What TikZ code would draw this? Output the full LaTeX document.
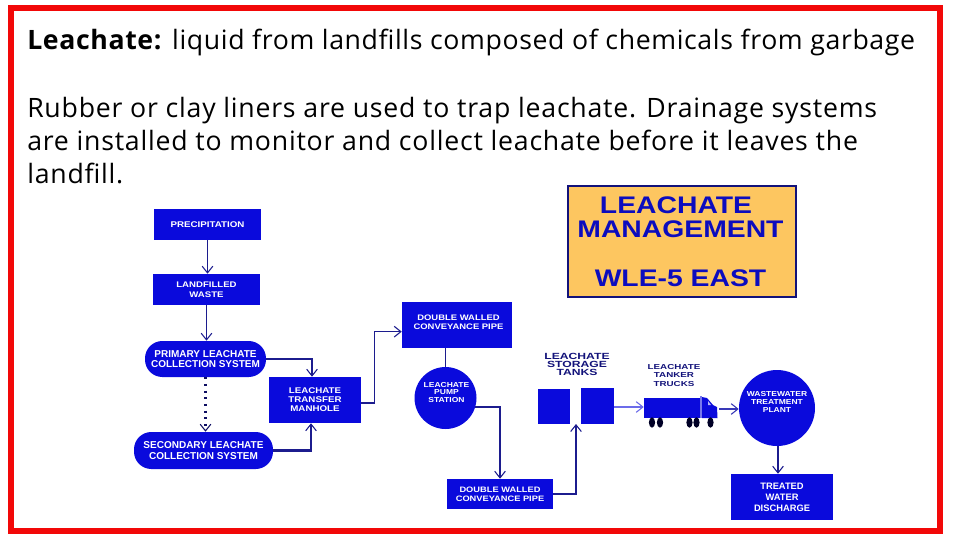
\documentclass[tikz,border=0pt]{standalone}
\usepackage{fontspec}
\setmainfont{Open Sans}[LetterSpace=2.9]
\newfontfamily\firstline{Open Sans}[LetterSpace=2.35]
\setsansfont{Liberation Sans}
\newfontfamily\widesf{Liberation Sans}[FakeStretch=1.18]
\newfontfamily\widersf{Liberation Sans}[FakeStretch=1.36]
\usetikzlibrary{arrows.meta,calc}
\definecolor{bl}{HTML}{0A0ADC}
\definecolor{navy}{HTML}{12127A}
\definecolor{ln}{HTML}{1C1C8E}
\definecolor{bord}{HTML}{F20808}
\definecolor{org}{HTML}{FDC660}
\tikzset{
  x=0.75pt,y=-0.75pt,
  bluebox/.style={fill=bl,draw=none,inner sep=0pt,text=white,align=center,font=\sffamily\bfseries\fontsize{#1}{#1}\selectfont},
  widebox/.style={fill=bl,draw=none,inner sep=0pt,text=white,align=center,font=\widesf\bfseries\fontsize{#1}{#1}\selectfont},
  whitetext/.style={inner sep=0pt,text=white,align=center,font=\widesf\bfseries\fontsize{#1}{#1}\selectfont},
  conn/.style={draw=ln,line width=1.1pt,-{Straight Barb[length=5pt,width=8pt,line width=0.8pt]}},
  plainconn/.style={draw=ln,line width=1.1pt},
  bodytext/.style={anchor=base west,inner sep=0pt,text=black,align=left,font=\fontsize{20pt}{24.75pt}\selectfont},
  darklabel/.style 2 args={inner sep=0pt,text=navy,align=center,font=\widersf\bfseries\fontsize{#1}{#2}\selectfont},
  titletext/.style={inner sep=0pt,text=bl!70!navy,align=center,font=\widesf\bfseries\fontsize{18}{18}\selectfont},
}
\begin{document}
\begin{tikzpicture}
\useasboundingbox (0,0) rectangle (960,540);
\fill[white] (0,0) rectangle (960,540);
\node[draw=bord,line width=4.5pt,inner sep=0pt,minimum width=929*0.75pt,minimum height=522.5*0.75pt] (frame) at (475.5,269.25) {};

\node[bodytext] (t1) at (27,49) {\firstline\textbf{Leachate:} liquid from landfills composed of chemicals from garbage};
\node[bodytext] (t2) at (27,183) {Rubber or clay liners are used to trap leachate. Drainage systems\\are installed to monitor and collect leachate before it leaves the\\landfill.};

\node[fill=org,draw=navy,line width=1pt,minimum width=228*0.75pt,minimum height=111*0.75pt,inner sep=0pt] (title) at (682,241.5) {};
\node[titletext] (title1) at (676,205) {LEACHATE};
\node[titletext] (title2) at (680.5,229) {MANAGEMENT};
\node[titletext] (title3) at (680.5,278) {WLE-5 EAST};

\node[widebox=6.2,minimum width=80.25pt,minimum height=23.25pt] (precip) at (207.5,224.5) {PRECIPITATION};
\node[widebox=6.1,minimum width=80.25pt,minimum height=23.25pt] (waste) at (206.5,289.5) {LANDFILLED\\[1.2pt]WASTE};
\node[bluebox=7.5,rounded corners=13pt,minimum width=90.75pt,minimum height=27pt] (primary) at (205.5,359) {PRIMARY LEACHATE\\[0.6pt]COLLECTION SYSTEM};
\node[bluebox=7.5,rounded corners=13pt,minimum width=104.25pt,minimum height=27.75pt] (secondary) at (203.5,450.5) {SECONDARY LEACHATE\\[0.8pt]COLLECTION SYSTEM};
\node[widebox=6.2,minimum width=69pt,minimum height=34.5pt] (manhole) at (315,400) {LEACHATE\\[0.6pt]TRANSFER\\[0.6pt]MANHOLE};
\node[fill=bl,inner sep=0pt,minimum width=82.5pt,minimum height=34.5pt] (pipeA) at (457,325) {};
\node[whitetext=6] (pipeAtext) at (458.5,322.5) {DOUBLE WALLED\\[1pt]CONVEYANCE PIPE};
\node[fill=bl,circle,inner sep=0pt,minimum size=46.5pt] (pump) at (445.5,398) {};
\node[whitetext=5.4] (pumptext) at (446.5,392.5) {LEACHATE\\[0.3pt]PUMP\\[0.3pt]STATION};
\node[widebox=5.9,minimum width=79.5pt,minimum height=22.5pt] (pipeB) at (500,494) {DOUBLE WALLED\\[1pt]CONVEYANCE PIPE};
\node[fill=bl,inner sep=0pt,minimum width=24.5pt,minimum height=26.25pt] (tankA) at (554,406.5) {};
\node[fill=bl,inner sep=0pt,minimum width=24.75pt,minimum height=27pt] (tankB) at (597.5,406) {};
\coordinate (tankgap) at (576,424);
\node[darklabel={6.7}{6.3}] (tanklabel) at (577,364.5) {LEACHATE\\STORAGE\\TANKS};
\node[darklabel={5.4}{6.4}] (trucklabel) at (674,375.5) {LEACHATE\\TANKER\\TRUCKS};

% truck
\node[fill=bl,inner sep=0pt,minimum width=42pt,minimum height=15pt] (trailer) at (672,408) {};
\fill[bl!55!white] (700,396) rectangle (702,418);
\fill[bl] (702,397) -- (707,398) -- (713,405) -- (717,407) -- (717.5,418) -- (702,418) -- cycle;
\fill[white!70!bl] (708,401) -- (711,405) -- (708,405) -- cycle;
\foreach \wx in {652,660,689.5,696.5,710.5}{\fill[black!85!blue] (\wx,422.5) ellipse [x radius=3.1,y radius=5.2];}
\coordinate (cabfront) at (719,409);

\node[fill=bl,circle,inner sep=0pt,minimum size=57pt] (plant) at (777,408) {};
\node[inner sep=0pt,text=white,align=center,font=\widesf\bfseries\fontsize{5.4}{6.1}\selectfont] (planttext) at (777,402) {WASTEWATER\\TREATMENT\\PLANT};
\node[bluebox=7,minimum width=76.5pt,minimum height=34.5pt] (treated) at (782,497) {TREATED\\[1.2pt]WATER\\[1.2pt]DISCHARGE};

\draw[conn] (precip.south) -- (precip.south |- waste.north);
\draw[conn] (waste.south) -- (waste.south |- primary.north);
\draw[conn,dash pattern=on 1.6pt off 3.4pt,line width=1.6pt,draw=navy!80!black] (primary.south) -- (secondary.north -| primary.south);
\draw[conn] (primary.east) -| ([xshift=-2.25pt]manhole.north);
\draw[conn,line width=1.6pt] (secondary.east) -| ([xshift=-3pt]manhole.south);
\draw[conn] ([yshift=-2.25pt]manhole.east) -- +(13,0) |- ([yshift=-5pt]pipeA.west);
\draw[plainconn] (pump.north) -- (pump.north |- pipeA.south);
\draw[conn] (pump.-17) -| (pipeB.north);
\draw[conn,line width=0.9pt] (pipeB.east) -| (tankgap);
\draw[conn,draw=bl!60!white,line width=1.4pt] (tankB.east |- 0,407) -- (trailer.west |- 0,407);
\draw[conn,draw=bl!60!gray] (cabfront) -- (plant.west |- cabfront);
\draw[conn,line width=1.5pt] (plant.south -| 778,0) -- (treated.north -| 778,0);
\end{tikzpicture}
\end{document}
